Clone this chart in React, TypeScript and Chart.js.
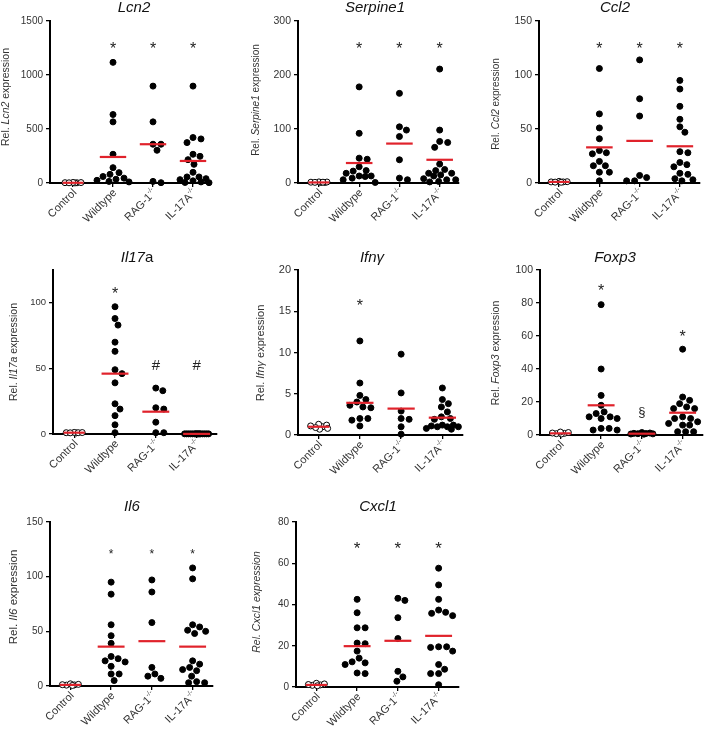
import React, { useEffect, useRef } from 'react';
import { Chart, registerables } from 'chart.js';
Chart.register(...registerables);

// ---------- categories ----------
const GROUPS = ['Control', 'Wildtype', 'RAG-1', 'IL-17A'];
const GROUP_SUPS = ['', '', '-/-', '-/-'];

// ---------- Lcn2 ----------
const lcn2Control = [3, 2, 4, 1, 5, 2];
const lcn2Wildtype = [1117, 634, 566, 266, 142, 96, 80, 60, 45, 35, 25, 15, 10];
const lcn2Rag = [897, 566, 359, 359, 303, 15, 3];
const lcn2Il17a = [897, 421, 408, 374, 266, 247, 216, 173, 99, 56, 56, 40, 31, 20, 10, 5, 3];
const lcn2Means = [2, 241, 359, 204];
const lcn2Marks = ['', '*', '*', '*'];
const lcn2MarkY = [0, 1284, 1284, 1284];
const lcn2Ticks = [0, 500, 1000, 1500];

// ---------- Serpine1 ----------
const serpControl = [1.5, 1, 2, 1, 1.8, 1.2, 1.5];
const serpWildtype = [178, 92, 46, 44, 30, 23, 22, 18, 13, 13, 12, 9, 6, 1];
const serpRag = [166, 104, 98, 86, 43, 9, 6];
const serpIl17a = [211, 98, 77, 75, 66, 35, 25, 23, 18, 18, 15, 13, 8, 6, 6, 3, 2];
const serpMeans = [1, 37, 73, 43];
const serpMarks = ['', '*', '*', '*'];
const serpMarkY = [0, 257, 257, 257];
const serpTicks = [0, 100, 200, 300];

// ---------- Ccl2 ----------
const ccl2Control = [1, 1.5, 0.8, 1.2, 1, 0.7];
const ccl2Wildtype = [106, 64, 51, 41, 30, 28, 27, 20, 16, 16, 10, 10, 2];
const ccl2Rag = [114, 78, 62, 7, 5, 2, 2];
const ccl2Il17a = [95, 87, 71, 59, 52, 47, 29, 28, 19, 17, 15, 9, 8, 4, 3, 2];
const ccl2Means = [1, 33, 39, 34];
const ccl2Marks = ['', '*', '*', '*'];
const ccl2MarkY = [0, 128, 128, 128];
const ccl2Ticks = [0, 50, 100, 150];

// ---------- Il17a ----------
const il17Control = [1, 0.8, 1.2, 1, 0.9, 1.1];
const il17Wildtype = [97, 88, 83, 70, 63, 49, 46, 39, 23, 19, 14, 7, 1];
const il17Rag = [35, 33, 20, 19, 9, 1, 1];
const il17Il17a = [0.1, 0.1, 0.1, 0.1, 0.1, 0.1, 0.1, 0.1, 0.1, 0.1, 0.1, 0.1, 0.1, 0.1, 0.1, 0.1];
const il17Means = [1, 46, 17, 0.1];
const il17Marks = ['', '*', '#', '#'];
const il17MarkY = [0, 110, 53, 53];
const il17Ticks = [0, 50, 100];

// ---------- Ifng ----------
const ifngControl = [1.0, 1.2, 0.8, 1.3, 0.7, 0.9, 1.1];
const ifngWildtype = [11.4, 6.3, 4.8, 4.3, 4.0, 3.6, 3.4, 3.3, 2.0, 2.0, 1.8, 1.1];
const ifngRag = [9.8, 5.1, 2.9, 2.0, 1.9, 1.0, 0.1];
const ifngIl17a = [5.7, 4.3, 3.8, 3.4, 2.8, 2.2, 2.0, 1.9, 1.2, 1.2, 1.1, 1.0, 1.0, 1.0, 0.8, 0.7];
const ifngMeans = [1.0, 3.9, 3.2, 2.1];
const ifngMarks = ['', '*', '', ''];
const ifngMarkY = [0, 16.1, 0, 0];
const ifngTicks = [0, 5, 10, 15, 20];

// ---------- Foxp3 ----------
const foxControl = [1, 1.5, 0.8, 1.2, 0.6, 1.8];
const foxWildtype = [79, 40, 24, 18, 14, 13, 11, 11, 10, 10, 4, 4, 3, 3];
const foxRag = [1.5, 1, 0.8, 0.6, 1.2, 0.5, 0.7, 0.9];
const foxIl17a = [52, 23, 21, 19, 17, 16, 16, 11, 10, 10, 8, 7, 6, 6, 2, 2, 2];
const foxMeans = [1, 18, 0.8, 13.5];
const foxMarks = ['', '*', '§', '*'];
const foxMarkY = [0, 90, 14, 62];
const foxTicks = [0, 20, 40, 60, 80, 100];

// ---------- Il6 ----------
const il6Control = [1, 1.5, 0.8, 2, 1.2, 0.5];
const il6Wildtype = [95, 84, 56, 46, 39, 27, 25, 23, 22, 18, 11, 11, 5];
const il6Rag = [97, 86, 58, 17, 11, 9, 7];
const il6Il17a = [108, 98, 56, 54, 51, 50, 48, 23, 20, 17, 15, 14, 9, 4, 3, 3];
const il6Means = [1, 36, 41, 36];
const il6Marks = ['', '*', '*', '*'];
const il6MarkY = [0, 123, 123, 123];
const il6Ticks = [0, 50, 100, 150];

// ---------- Cxcl1 ----------
const cxclControl = [1, 1.5, 0.8, 1.2, 1.8, 0.6];
const cxclWildtype = [42.5, 36, 28.7, 28.7, 21.3, 21, 17.4, 14, 12.2, 11.7, 10.9, 6.8, 6.5];
const cxclRag = [43, 42, 33.6, 23.5, 7.6, 4.9, 2.8];
const cxclIl17a = [57.6, 49.5, 42.5, 37.3, 36.2, 35.7, 34.6, 19.5, 19.5, 19.2, 17.4, 10.9, 8.6, 6.5, 6.5, 1.1];
const cxclMeans = [1, 19.8, 22.4, 24.8];
const cxclMarks = ['', '*', '*', '*'];
const cxclMarkY = [0, 69.5, 69.5, 69.5];
const cxclTicks = [0, 20, 40, 60, 80];

// ---------- layout / styling ----------
type Seg = [string, boolean];
interface PanelCfg {
  title: Seg[];
  yLabel: Seg[];
  groups: number[][];
  means: number[];
  marks: string[];
  markY: number[];
  ticks: number[];
  yMax: number;
  open: boolean[];
  spread: number[];
  box: [number, number, number, number];
  area: [number, number, number, number]; // left, right, top, bottom
  xRange: [number, number];
  titlePos: [number, number];
  yLabelPos: [number, number];
  tickFont: number;
  yLabFont: number;
  xLabFont: number;
  markFont: number;
}

const FF = 'Arial, "Liberation Sans", Helvetica, sans-serif';
const RED = '#e0222b';
const STD_SPREAD = [9, 16, 16, 16];

const PANELS: PanelCfg[] = [
  {
    title: [['Lcn2', true]], yLabel: [['Rel. ', false], ['Lcn2', true], [' expression', false]],
    groups: [lcn2Control, lcn2Wildtype, lcn2Rag, lcn2Il17a], means: lcn2Means, marks: lcn2Marks, markY: lcn2MarkY,
    ticks: lcn2Ticks, yMax: 1500, open: [true, false, false, false], spread: STD_SPREAD,
    box: [0, 0, 236, 245], area: [50, 211, 21, 183], xRange: [-0.575, 3.45], titlePos: [134, 8], yLabelPos: [6, 97],
    tickFont: 10, yLabFont: 10.5, xLabFont: 11, markFont: 16,
  },
  {
    title: [['Serpine1', true]], yLabel: [['Rel. ', false], ['Serpine1', true], [' expression', false]],
    groups: [serpControl, serpWildtype, serpRag, serpIl17a], means: serpMeans, marks: serpMarks, markY: serpMarkY,
    ticks: serpTicks, yMax: 300, open: [true, false, false, false], spread: STD_SPREAD,
    box: [236, 0, 236, 245], area: [298, 459, 21, 183], xRange: [-0.52, 3.48], titlePos: [375, 8], yLabelPos: [256, 100],
    tickFont: 10.5, yLabFont: 10, xLabFont: 11, markFont: 16,
  },
  {
    title: [['Ccl2', true]], yLabel: [['Rel. ', false], ['Ccl2', true], [' expression', false]],
    groups: [ccl2Control, ccl2Wildtype, ccl2Rag, ccl2Il17a], means: ccl2Means, marks: ccl2Marks, markY: ccl2MarkY,
    ticks: ccl2Ticks, yMax: 150, open: [true, false, false, false], spread: STD_SPREAD,
    box: [472, 0, 237, 245], area: [539, 700, 21, 183], xRange: [-0.5, 3.5], titlePos: [615, 8], yLabelPos: [496, 104],
    tickFont: 10.5, yLabFont: 10, xLabFont: 11, markFont: 16,
  },
  {
    title: [['Il17', true], ['a', false]], yLabel: [['Rel. ', false], ['Il17a', true], [' expression', false]],
    groups: [il17Control, il17Wildtype, il17Rag, il17Il17a], means: il17Means, marks: il17Marks, markY: il17MarkY,
    ticks: il17Ticks, yMax: 125, open: [true, false, false, false], spread: [9, 16, 16, 12],
    box: [0, 245, 236, 245], area: [53, 217, 270, 434], xRange: [-0.52, 3.5], titlePos: [137, 258], yLabelPos: [14, 352],
    tickFont: 9.5, yLabFont: 10.5, xLabFont: 11, markFont: 16,
  },
  {
    title: [['Ifnγ', true]], yLabel: [['Rel. ', false], ['Ifnγ', true], [' expression', false]],
    groups: [ifngControl, ifngWildtype, ifngRag, ifngIl17a], means: ifngMeans, marks: ifngMarks, markY: ifngMarkY,
    ticks: ifngTicks, yMax: 20, open: [true, false, false, false], spread: STD_SPREAD,
    box: [236, 245, 236, 245], area: [298, 463, 270, 435], xRange: [-0.5, 3.5], titlePos: [372, 258], yLabelPos: [261, 353],
    tickFont: 11, yLabFont: 11, xLabFont: 11, markFont: 16,
  },
  {
    title: [['Foxp3', true]], yLabel: [['Rel. ', false], ['Foxp3', true], [' expression', false]],
    groups: [foxControl, foxWildtype, foxRag, foxIl17a], means: foxMeans, marks: foxMarks, markY: foxMarkY,
    ticks: foxTicks, yMax: 100, open: [true, false, false, false], spread: [9, 16, 11, 16],
    box: [472, 245, 237, 245], area: [540, 703, 270, 435], xRange: [-0.5, 3.5], titlePos: [615, 258], yLabelPos: [496, 353],
    tickFont: 10.5, yLabFont: 10.5, xLabFont: 11, markFont: 16,
  },
  {
    title: [['Il6', true]], yLabel: [['Rel. ', false], ['Il6', true], [' expression', false]],
    groups: [il6Control, il6Wildtype, il6Rag, il6Il17a], means: il6Means, marks: il6Marks, markY: il6MarkY,
    ticks: il6Ticks, yMax: 150, open: [true, false, false, false], spread: STD_SPREAD,
    box: [0, 490, 236, 244], area: [50, 213, 522, 686], xRange: [-0.5, 3.5], titlePos: [132, 507], yLabelPos: [14, 597],
    tickFont: 10, yLabFont: 11.5, xLabFont: 11, markFont: 12,
  },
  {
    title: [['Cxcl1', true]], yLabel: [['Rel. Cxcl1 expression', true]],
    groups: [cxclControl, cxclWildtype, cxclRag, cxclIl17a], means: cxclMeans, marks: cxclMarks, markY: cxclMarkY,
    ticks: cxclTicks, yMax: 80, open: [true, false, false, false], spread: STD_SPREAD,
    box: [236, 490, 236, 244], area: [296, 459, 522, 687], xRange: [-0.5, 3.5], titlePos: [378, 507], yLabelPos: [257, 602],
    tickFont: 10, yLabFont: 10.5, xLabFont: 11, markFont: 17,
  },
];

// beeswarm layout of x offsets (in category units), from pixel geometry
function swarm(values: number[], pxPerVal: number, pxPerCat: number, maxHalf: number, d: number): number[] {
  const idx = values.map((_, i) => i).sort((a, b) => values[b] - values[a]);
  const placed: { x: number; y: number }[] = [];
  const out = new Array(values.length).fill(0);
  const cands: number[] = [0];
  for (let k = 1; k <= maxHalf; k++) cands.push(k, -k);
  for (const i of idx) {
    const y = values[i] * pxPerVal;
    let chosen: number | null = null;
    let best = -1;
    let bestX = 0;
    for (const c of cands) {
      let m = Infinity;
      for (const p of placed) {
        const dd = Math.hypot(p.x - c, p.y - y);
        if (dd < m) m = dd;
      }
      if (m >= d) { chosen = c; break; }
      if (m > best + 1e-9) { best = m; bestX = c; }
    }
    const x = chosen !== null ? chosen : bestX;
    placed.push({ x, y });
    out[i] = x / pxPerCat;
  }
  return out;
}

function segWidth(ctx: CanvasRenderingContext2D, segs: Seg[], size: number) {
  let w = 0;
  for (const [t, it] of segs) {
    ctx.font = `${it ? 'italic ' : ''}${size}px ${FF}`;
    w += ctx.measureText(t).width;
  }
  return w;
}
function drawSegs(ctx: CanvasRenderingContext2D, segs: Seg[], size: number, x: number, y: number) {
  let cx = x;
  for (const [t, it] of segs) {
    ctx.font = `${it ? 'italic ' : ''}${size}px ${FF}`;
    ctx.fillText(t, cx, y);
    cx += ctx.measureText(t).width;
  }
}

function makeTextPlugin(cfg: PanelCfg) {
  return {
    id: 'panelText',
    afterDraw(chart: any) {
      const ctx: CanvasRenderingContext2D = chart.ctx;
      const [bl, bt] = cfg.box;
      const xs = chart.scales.x;
      const ys = chart.scales.y;
      const ca = chart.chartArea;
      ctx.save();
      // title
      ctx.fillStyle = '#111';
      ctx.textBaseline = 'middle';
      ctx.textAlign = 'left';
      const tw = segWidth(ctx, cfg.title, 15);
      drawSegs(ctx, cfg.title, 15, cfg.titlePos[0] - bl - tw / 2, cfg.titlePos[1] - bt);
      // y label
      ctx.fillStyle = '#333';
      ctx.save();
      ctx.translate(cfg.yLabelPos[0] - bl, cfg.yLabelPos[1] - bt);
      ctx.rotate(-Math.PI / 2);
      const yw = segWidth(ctx, cfg.yLabel, cfg.yLabFont);
      drawSegs(ctx, cfg.yLabel, cfg.yLabFont, -yw / 2, 0);
      ctx.restore();
      // x labels
      for (let i = 0; i < GROUPS.length; i++) {
        const x = xs.getPixelForValue(i);
        ctx.save();
        ctx.translate(x + 2, ca.bottom + 8);
        ctx.rotate(-Math.PI / 4);
        ctx.textBaseline = 'middle';
        ctx.textAlign = 'left';
        ctx.font = `${cfg.xLabFont}px ${FF}`;
        const wm = ctx.measureText(GROUPS[i]).width;
        const supSize = cfg.xLabFont * 0.62;
        ctx.font = `${supSize}px ${FF}`;
        const ws = GROUP_SUPS[i] ? ctx.measureText(GROUP_SUPS[i]).width : 0;
        const tot = wm + ws;
        ctx.font = `${cfg.xLabFont}px ${FF}`;
        ctx.fillText(GROUPS[i], -tot, 0);
        if (GROUP_SUPS[i]) {
          ctx.font = `${supSize}px ${FF}`;
          ctx.fillText(GROUP_SUPS[i], -ws, -cfg.xLabFont * 0.35);
        }
        ctx.restore();
      }
      // significance marks
      ctx.fillStyle = '#222';
      ctx.textAlign = 'center';
      ctx.textBaseline = 'alphabetic';
      for (let i = 0; i < cfg.marks.length; i++) {
        const m = cfg.marks[i];
        if (!m) continue;
        const size = m === '*' ? cfg.markFont : m === '#' ? 15 : 13;
        const k = m === '*' ? 0.58 : m === '#' ? 0.36 : 0.3;
        ctx.font = `${size}px ${FF}`;
        ctx.fillText(m, xs.getPixelForValue(i), ys.getPixelForValue(cfg.markY[i]) + k * size);
      }
      ctx.restore();
    },
  };
}

function Panel({ cfg }: { cfg: PanelCfg }) {
  const ref = useRef<HTMLCanvasElement>(null);
  useEffect(() => {
    if (!ref.current) return;
    const [bl, bt, bw, bh] = cfg.box;
    const [al, ar, at, ab] = cfg.area;
    const pxPerVal = (ab - at) / cfg.yMax;
    const pxPerCat = (ar - al) / (cfg.xRange[1] - cfg.xRange[0]);
    const datasets: any[] = [];
    cfg.groups.forEach((vals, gi) => {
      const offs = swarm(vals, pxPerVal, pxPerCat, cfg.spread[gi], 7.2);
      datasets.push({
        type: 'scatter',
        data: vals.map((v, k) => ({ x: gi + offs[k], y: v })),
        pointRadius: 3,
        pointBorderWidth: 1,
        pointBackgroundColor: cfg.open[gi] ? '#ffffff' : '#000000',
        pointBorderColor: '#000000',
        clip: false,
        order: 2,
      });
    });
    cfg.means.forEach((m, gi) => {
      const h = gi === 0 ? 0.26 : 0.33;
      datasets.push({
        type: 'scatter',
        showLine: true,
        data: [{ x: gi - h, y: m }, { x: gi + h, y: m }],
        borderColor: RED,
        borderWidth: 2.2,
        pointRadius: 0,
        clip: false,
        order: 1,
      });
    });
    const gridOpts = { display: true, drawOnChartArea: false, drawTicks: true, tickLength: 4, color: '#000', lineWidth: 1.3 };
    const borderOpts = { display: true, color: '#000', width: 2 };
    const yAxisW = al - bl;
    const chart = new Chart(ref.current, {
      type: 'scatter',
      data: { datasets },
      options: {
        responsive: false,
        animation: false,
        events: [],
        devicePixelRatio: 1,
        layout: { padding: { left: 0, right: bl + bw - ar, top: at - bt, bottom: bt + bh - ab } },
        plugins: { legend: { display: false }, tooltip: { enabled: false } },
        scales: {
          x: {
            type: 'linear',
            min: cfg.xRange[0],
            max: cfg.xRange[1],
            afterBuildTicks: (s: any) => { s.ticks = [0, 1, 2, 3].map((v) => ({ value: v })); },
            afterFit: (s: any) => { s.height = 0; s.paddingLeft = 0; s.paddingRight = 0; },
            ticks: { callback: () => '', maxRotation: 0, minRotation: 0, padding: 0, autoSkip: false },
            grid: gridOpts,
            border: borderOpts,
          },
          y: {
            type: 'linear',
            min: 0,
            max: cfg.yMax,
            afterBuildTicks: (s: any) => { s.ticks = cfg.ticks.map((v) => ({ value: v })); },
            afterFit: (s: any) => { s.width = yAxisW; },
            ticks: {
              callback: (v: any) => String(v),
              font: { family: FF, size: cfg.tickFont },
              color: '#333',
              padding: 3,
              autoSkip: false,
            },
            grid: gridOpts,
            border: borderOpts,
          },
        },
      } as any,
      plugins: [makeTextPlugin(cfg)],
    });
    return () => chart.destroy();
  }, [cfg]);
  const [bl, bt, bw, bh] = cfg.box;
  return (
    <canvas
      ref={ref}
      width={bw}
      height={bh}
      style={{ position: 'absolute', left: bl, top: bt, width: bw, height: bh }}
    />
  );
}

export default function App() {
  return (
    <div style={{ position: 'absolute', left: 0, top: 0, width: 709, height: 734, background: '#fff', overflow: 'hidden' }}>
      {PANELS.map((p, i) => (
        <Panel key={i} cfg={p} />
      ))}
    </div>
  );
}
